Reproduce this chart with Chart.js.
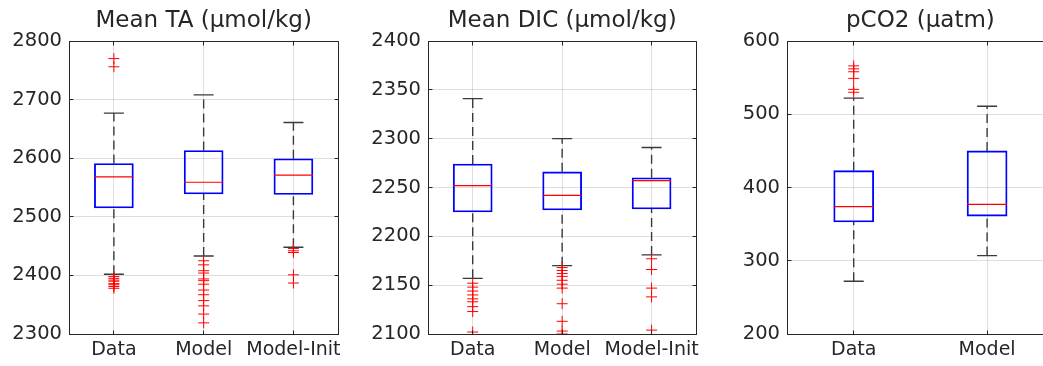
<!DOCTYPE html>
<html>
<head>
<meta charset="utf-8">
<script src="https://cdn.jsdelivr.net/npm/chart.js@4"></script>
<style>
    html, body { margin: 0; padding: 0; background: #fff; overflow: hidden; }
    body { width: 1043px; height: 366px; position: relative; }
    canvas { position: absolute; top: 0; }
</style>
</head>
<body>
<canvas id="taChart" width="359" height="366" style="left:0px"></canvas>
<canvas id="dicChart" width="367" height="366" style="left:350px"></canvas>
<canvas id="pco2Chart" width="370" height="366" style="left:705px"></canvas>
<script>
// data
const taCats = ['Data', 'Model', 'Model-Init']
const taQ1 = [2515, 2539, 2538]
const taMed = [2568, 2559, 2571]
const taQ3 = [2591, 2613, 2599]
const taLo = [2402, 2433, 2448]
const taHi = [2677, 2708, 2661]
const taOut = [
    [2770, 2756, 2398, 2395, 2392, 2390, 2386, 2384, 2381, 2378],
    [2425, 2418, 2408, 2404, 2394, 2391, 2385, 2375, 2367, 2357, 2348, 2334, 2319],
    [2446, 2442, 2439, 2401, 2387]
]

const dicCats = ['Data', 'Model', 'Model-Init']
const dicQ1 = [2225, 2227, 2228]
const dicMed = [2252, 2242, 2257]
const dicQ3 = [2274, 2266, 2260]
const dicLo = [2157, 2170, 2181]
const dicHi = [2341, 2300, 2291]
const dicOut = [
    [2152, 2148, 2144, 2140, 2136, 2133, 2128, 2123, 2102],
    [2168, 2165, 2162, 2159, 2155, 2151, 2147, 2131, 2113, 2103, 2100],
    [2177, 2166, 2147, 2138, 2104]
]

const pco2Cats = ['Data', 'Model']
const pco2Q1 = [353, 361]
const pco2Med = [374, 377]
const pco2Q3 = [423, 450]
const pco2Lo = [272, 307]
const pco2Hi = [522, 511]
const pco2Out = [
    [566, 562, 558, 549, 534, 530],
    []
]

const FONT = "'DejaVu Sans', sans-serif"
const AXIS = '#262626'
const GRID = 'rgba(38,38,38,0.15)'

function main() {
    buildPanel('taChart', {
        title: 'Mean TA (\u03bcmol/kg)',
        cats: taCats, q1: taQ1, med: taMed, q3: taQ3, lo: taLo, hi: taHi, out: taOut,
        min: 2300, max: 2800, step: 100,
        yWidth: 69, padRight: 0, box: 39
    })
    buildPanel('dicChart', {
        title: 'Mean DIC (\u03bcmol/kg)',
        cats: dicCats, q1: dicQ1, med: dicMed, q3: dicQ3, lo: dicLo, hi: dicHi, out: dicOut,
        min: 2100, max: 2400, step: 50,
        yWidth: 78, padRight: 0, box: 39
    })
    buildPanel('pco2Chart', {
        title: 'pCO2 (\u03bcatm)',
        cats: pco2Cats, q1: pco2Q1, med: pco2Med, q3: pco2Q3, lo: pco2Lo, hi: pco2Hi, out: pco2Out,
        min: 200, max: 600, step: 100,
        yWidth: 82, padRight: 0, box: 40
    })
}

// helpers
function segments(cats, from, to) {
    const pts = []
    cats.forEach((c, i) => {
        pts.push({ x: c, y: from[i] }, { x: c, y: to[i] }, { x: c, y: null })
    })
    return pts
}

function outlierPoints(cats, out) {
    return cats.flatMap((c, i) => out[i].map(v => ({ x: c, y: v })))
}

const align = v => Math.round(v - 0.5) + 0.5

// axes box and inward ticks like matlab
const framePlugin = {
    id: 'frame',
    afterDraw(chart) {
        const { ctx, chartArea: a, scales } = chart
        const L = align(a.left), R = align(a.right), T = align(a.top), B = align(a.bottom)
        ctx.save()
        ctx.strokeStyle = AXIS
        ctx.lineWidth = 1
        ctx.beginPath()
        ctx.moveTo(L, T); ctx.lineTo(R, T); ctx.lineTo(R, B)
        scales.y.ticks.forEach((t, i) => {
            const y = align(scales.y.getPixelForTick(i))
            ctx.moveTo(L, y); ctx.lineTo(L + 4, y)
            ctx.moveTo(R, y); ctx.lineTo(R - 4, y)
        })
        scales.x.ticks.forEach((t, i) => {
            const x = align(scales.x.getPixelForTick(i))
            ctx.moveTo(x, B); ctx.lineTo(x, B - 4)
            ctx.moveTo(x, T); ctx.lineTo(x, T + 4)
        })
        ctx.stroke()
        ctx.restore()
    }
}

function buildPanel(canvasId, p) {
    const ctx = document.getElementById(canvasId)
    new Chart(ctx, {
        type: 'bar',
        data: {
            labels: p.cats,
            datasets: [
                {
                    type: 'line', order: 4,
                    data: segments(p.cats, p.q3, p.hi).concat(segments(p.cats, p.lo, p.q1)),
                    borderColor: '#3a3a3a', borderWidth: 1.4, borderDash: [9, 5],
                    pointRadius: 0, spanGaps: false
                },
                {
                    type: 'line', order: 3, showLine: false,
                    data: p.cats.flatMap((c, i) => [{ x: c, y: p.hi[i] }, { x: c, y: p.lo[i] }]),
                    pointStyle: 'line', pointRadius: 10, pointBorderColor: '#3a3a3a', pointBorderWidth: 1.4
                },
                {
                    type: 'bar', order: 2,
                    data: p.cats.map((c, i) => [p.q1[i], p.q3[i]]),
                    backgroundColor: 'rgba(0,0,0,0)', borderColor: '#0000ff', borderWidth: 1.2,
                    borderSkipped: false, barThickness: p.box
                },
                {
                    type: 'line', order: 1, showLine: false,
                    data: p.med,
                    pointStyle: 'line', pointRadius: p.box / 2, pointBorderColor: '#ff0000', pointBorderWidth: 1.2
                },
                {
                    type: 'line', order: 0, showLine: false,
                    data: outlierPoints(p.cats, p.out),
                    pointStyle: 'cross', pointRadius: 5.5, pointBorderColor: '#ff0000', pointBorderWidth: 1
                }
            ]
        },
        options: {
            responsive: false,
            animation: false,
            events: [],
            layout: { padding: { left: 0, right: p.padRight, top: 0, bottom: 0 } },
            plugins: {
                legend: { display: false },
                tooltip: { enabled: false },
                title: {
                    display: true, text: p.title, color: AXIS, fullSize: false,
                    font: { family: FONT, size: 23, weight: 'normal' },
                    padding: { top: 7, bottom: 6.4 }
                }
            },
            scales: {
                x: {
                    afterFit: s => { s.height = 32 },
                    grid: { color: GRID, offset: false, drawTicks: false },
                    border: { color: AXIS, width: 1 },
                    ticks: {
                        color: AXIS, padding: 5, maxRotation: 0, minRotation: 0, autoSkip: false,
                        font: { family: FONT, size: 19 }
                    }
                },
                y: {
                    min: p.min, max: p.max,
                    afterFit: s => { s.width = p.yWidth },
                    grid: { color: GRID, drawTicks: false },
                    border: { color: AXIS, width: 1 },
                    ticks: {
                        stepSize: p.step, color: AXIS, padding: 7,
                        font: { family: FONT, size: 19.5 },
                        callback: v => String(v)
                    }
                }
            }
        },
        plugins: [framePlugin]
    })
}

document.addEventListener('DOMContentLoaded', main)
</script>
</body>
</html>
